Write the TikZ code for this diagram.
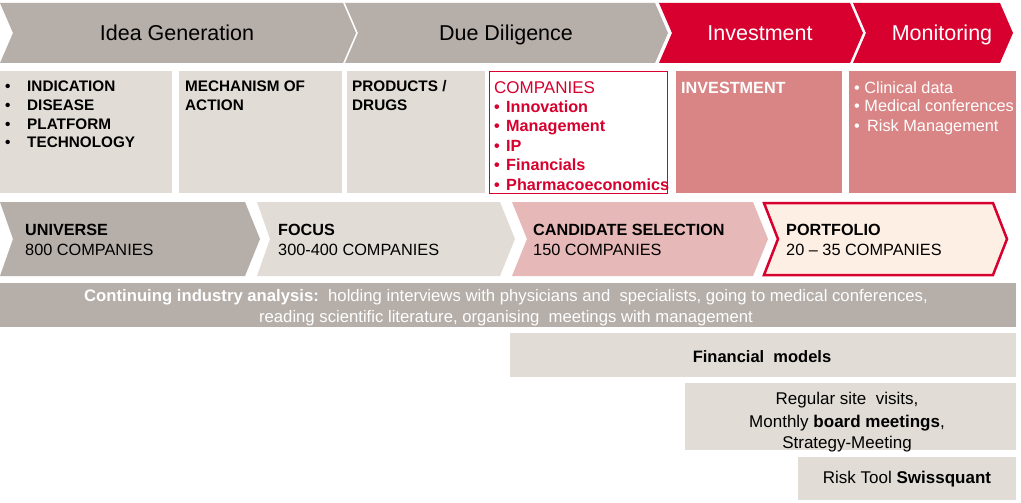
\documentclass[tikz,border=0pt]{standalone}
\usepackage{fontspec}
\setmainfont{Liberation Sans}
\definecolor{dgrey}{HTML}{B5AEA9}
\definecolor{lgrey}{HTML}{E1DDD6}
\definecolor{cred}{HTML}{D7002F}
\definecolor{pinkbox}{HTML}{D98585}
\definecolor{pinkchev}{HTML}{E6B8B8}
\definecolor{peach}{HTML}{FDEFE3}
\begin{document}
\begin{tikzpicture}[x=1pt,y=-1pt,
  every node/.style={inner sep=0pt},
  head/.style={font=\fontsize{21.5}{25}\selectfont, anchor=base},
  bt/.style={font=\fontsize{15.3}{18}\selectfont\bfseries, anchor=base west},
  bb/.style={font=\fontsize{16.2}{19}\selectfont\bfseries, anchor=base west},
  rt/.style={font=\fontsize{16.3}{19}\selectfont, anchor=base west},
  ct/.style={font=\fontsize{16.7}{19}\selectfont, anchor=base, text=white},
  lt/.style={font=\fontsize{17}{20}\selectfont, anchor=base}]
\useasboundingbox[fill=white] (0,0) rectangle (1021,503);

% top chevrons
\fill[dgrey] (0,3)--(343,3)--(356,33)--(343,63)--(0,63)--(13,33)--cycle;
\fill[dgrey] (345,3)--(655,3)--(668,33)--(655,63)--(345,63)--(358,33)--cycle;
\fill[cred] (659,3)--(850,3)--(863,33)--(850,63)--(659,63)--(672,33)--cycle;
\fill[cred] (853,3)--(1000,3)--(1013,33)--(1000,63)--(853,63)--(866,33)--cycle;
\node[head] (h1) at (177,40.5) {Idea Generation};
\node[head] (h2) at (506,40.5) {Due Diligence};
\node[head, text=white] (h3) at (760,40.5) {Investment};
\node[head, text=white] (h4) at (942,40.5) {Monitoring};

% second row boxes
\fill[lgrey] (0,71) rectangle (172,193);
\fill[lgrey] (179,71) rectangle (342,193);
\fill[lgrey] (347,71) rectangle (485,193);
\draw[cred, line width=1pt, fill=white] (489.5,71.5) rectangle (667,193);
\fill[pinkbox] (676,71) rectangle (842,193);
\fill[pinkbox] (849,71) rectangle (1016,193);

\foreach \t [count=\i] in {INDICATION,DISEASE,PLATFORM,TECHNOLOGY}{
  \node[bt] (b1b\i) at (5,{92+18.5*(\i-1)}) {\textbullet};
  \node[bt] (b1t\i) at (27,{92+18.5*(\i-1)}) {\t};
}
\node[bt] (b2a) at (185,92) {MECHANISM OF};
\node[bt] (b2b) at (185,110.5) {ACTION};
\node[bt] (b3a) at (352,92) {PRODUCTS /};
\node[bt] (b3b) at (352,110.5) {DRUGS};

\node[font=\fontsize{17}{20}\selectfont, anchor=base west, text=cred] (c0) at (494,93.5) {COMPANIES};
\foreach \t [count=\i] in {Innovation,Management,IP,Financials,Pharmacoeconomics}{
  \node[bb, text=cred] (cb\i) at (494,{93+19.4*\i}) {\textbullet};
  \node[bb, text=cred] (ct\i) at (506,{93+19.4*\i}) {\t};
}
\node[bb, text=white] (inv) at (681,93) {INVESTMENT};
\node[rt, text=white] (m1) at (854,93) {\textbullet\ Clinical data};
\node[rt, text=white] (m2) at (854,112) {\textbullet\ Medical conferences};
\node[rt, text=white] (m3) at (854,131.5) {\textbullet\ \,Risk Management};

% third row chevrons
\fill[dgrey] (0,202)--(245,202)--(260,239)--(245,276)--(0,276)--(13,239)--cycle;
\fill[lgrey] (257,202)--(500,202)--(515,239)--(500,276)--(257,276)--(270,239)--cycle;
\fill[pinkchev] (512,202)--(753,202)--(768,239)--(753,276)--(512,276)--(527,239)--cycle;
\draw[cred, line width=2.5pt, fill=peach, line join=miter] (764,203)--(993,203)--(1007,239)--(993,275)--(764,275)--(778,239)--cycle;
\node[bb] (u1) at (25,235) {UNIVERSE};
\node[rt] (u2) at (25,255) {800 COMPANIES};
\node[bb] (f1) at (278,235) {FOCUS};
\node[rt] (f2) at (278,255) {300-400 COMPANIES};
\node[bb] (s1) at (533,235) {CANDIDATE SELECTION};
\node[rt] (s2) at (533,255) {150 COMPANIES};
\node[bb] (p1) at (786,235) {PORTFOLIO};
\node[rt] (p2) at (786,255) {20 -- 35 COMPANIES};

% continuing bar
\fill[dgrey] (0,283) rectangle (1016,327);
\node[ct] (ca1) at (506,301.5) {\textbf{Continuing industry analysis:}\ \ holding interviews with physicians and\ \ specialists, going to medical conferences,};
\node[ct] (ca2) at (506,322.5) {reading scientific literature, organising\ \ meetings with management};

% lower boxes
\fill[lgrey] (510,333) rectangle (1016,377);
\node[lt, font=\fontsize{16.5}{20}\selectfont\bfseries] (fm) at (762,362.5) {Financial\ \ models};
\fill[lgrey] (685,383) rectangle (1016,450);
\node[lt] (r1) at (847,404) {Regular site\ \ visits,};
\node[lt] (r2) at (847,427) {Monthly \textbf{board meetings},};
\node[lt] (r3) at (847,448) {Strategy-Meeting};
\fill[lgrey] (798,457) rectangle (1016,500);
\node[lt] (rt) at (907,483) {Risk Tool \textbf{Swissquant}};
\end{tikzpicture}
\end{document}
